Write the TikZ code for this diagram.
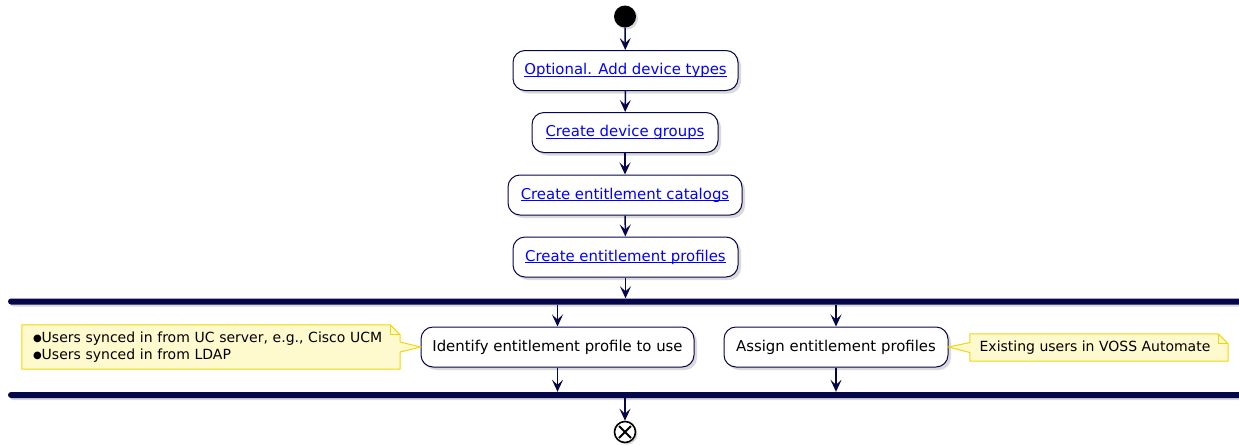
\documentclass[tikz,border=0pt]{standalone}
\usepackage{fontspec}
\setmainfont{DejaVu Sans}
\usetikzlibrary{arrows.meta,shadows}
\definecolor{edgecol}{HTML}{06064A}
\definecolor{notefill}{HTML}{FFFACD}
\definecolor{notedraw}{HTML}{F2D60C}
\definecolor{linkblue}{HTML}{0000FF}
\newcommand\lnk[1]{\textcolor{linkblue}{\setbox0\hbox{#1}\rlap{\rule[-1.8pt]{\wd0}{0.9pt}}\box0}}
\newcommand\bul{\raisebox{1.2pt}{\fontsize{10}{10}\selectfont ●}}
\tikzset{
  act/.style={draw=edgecol, line width=1pt, fill=white, rounded corners=12pt,
    minimum height=40pt, inner xsep=0pt, font=\fontsize{14.9}{17}\selectfont,
    drop shadow={shadow xshift=3pt, shadow yshift=-3pt, opacity=0.3, fill=gray}},
  flow/.style={draw=edgecol, line width=1.5pt, -{Stealth[length=12pt,width=11pt,inset=5pt]}},
  bar/.style={fill=edgecol, rounded corners=3pt, minimum height=6pt, inner sep=0pt,
    drop shadow={shadow xshift=2pt, shadow yshift=-2pt, opacity=0.3, fill=gray}},
  notebox/.style={draw=none, inner sep=0pt, font=\fontsize{14}{17}\selectfont, align=left},
  noteshape/.style={fill=notefill, draw=notedraw, line width=1pt, line join=miter}
}
\begin{document}
\begin{tikzpicture}[x=1pt,y=-1pt]
\useasboundingbox (0,0) rectangle (1239,445);
\clip (0,0) rectangle (1239,445);
\node[circle, fill=black, minimum size=22pt, inner sep=0pt,
  drop shadow={shadow xshift=2pt, shadow yshift=-2pt, opacity=0.3, fill=gray}] (start) at (625,16.5) {};
\node[act, minimum width=225pt] (b1) at (625.5,70.5) {\lnk{Optional. Add device types}};
\node[act, minimum width=186pt] (b2) at (625,132.5) {\lnk{Create device groups}};
\node[act, minimum width=234pt] (b3) at (625,195) {\lnk{Create entitlement catalogs}};
\node[act, minimum width=225pt] (b4) at (625.5,257) {\lnk{Create entitlement profiles}};
\node[bar, minimum width=1250pt] (fork) at (633,301.5) {};
\node[act, minimum width=273pt] (b5) at (557.5,347) {Identify entitlement profile to use};
\node[act, minimum width=224pt] (b6) at (836,347) {Assign entitlement profiles};
\node[bar, minimum width=1250pt] (join) at (633,395) {};
\node[circle, draw=black, line width=1.6pt, fill=white, minimum size=21pt, inner sep=0pt,
  drop shadow={shadow xshift=2pt, shadow yshift=-2pt, opacity=0.3, fill=gray}] (end) at (625,432) {};
\draw[line width=2pt] ([shift={(-6pt,6pt)}]end.center) -- ([shift={(6pt,-6pt)}]end.center);
\draw[line width=2pt] ([shift={(-6pt,-6pt)}]end.center) -- ([shift={(6pt,6pt)}]end.center);
% notes
\node[notebox, minimum width=378pt, minimum height=44pt] (n1) at (211,347) {};
\fill[noteshape] (n1.north west) -- ([xshift=-10pt]n1.north east) -- ([yshift=-10pt]n1.north east)
  -- ([yshift=5pt]n1.east) -- (b5.west) -- ([yshift=-5pt]n1.east)
  -- (n1.south east) -- (n1.south west) -- cycle;
\draw[noteshape, fill=none] ([xshift=-10pt]n1.north east) -- ([xshift=-10pt,yshift=-10pt]n1.north east) -- ([yshift=-10pt]n1.north east);
\node[notebox, text width=356pt] (t1) at (n1) {\bul Users synced in from UC server, e.g., Cisco UCM\\\bul Users synced in from LDAP};
\node[notebox, minimum width=258pt, minimum height=27pt] (n2) at (1099,347.5) {};
\fill[noteshape] (n2.north west) -- ([xshift=-10pt]n2.north east) -- ([yshift=-10pt]n2.north east)
  -- (n2.south east) -- (n2.south west) -- ([yshift=-5pt]n2.west) -- (b6.east) -- ([yshift=5pt]n2.west) -- cycle;
\draw[noteshape, fill=none] ([xshift=-10pt]n2.north east) -- ([xshift=-10pt,yshift=-10pt]n2.north east) -- ([yshift=-10pt]n2.north east);
\node[notebox] (t2) at ([xshift=-4pt]n2.center) {Existing users in VOSS Automate};
% flows
\draw[flow] (start) -- (b1);
\draw[flow] (b1) -- (b2);
\draw[flow] (b2) -- (b3);
\draw[flow] (b3) -- (b4);
\draw[flow] (b4.south) -- (b4.south |- fork.north);
\draw[flow] (fork.south -| b5.north) -- (b5.north);
\draw[flow] (fork.south -| b6.north) -- (b6.north);
\draw[flow] (b5.south) -- (b5.south |- join.north);
\draw[flow] (b6.south) -- (b6.south |- join.north);
\draw[flow] (join.south -| end.north) -- (end.north);
\end{tikzpicture}
\end{document}
